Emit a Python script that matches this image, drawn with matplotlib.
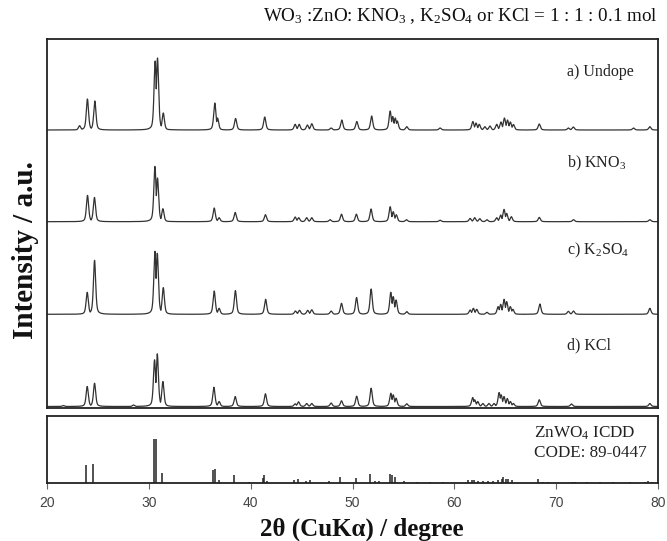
import numpy as np
import matplotlib
matplotlib.use("Agg")
import matplotlib.pyplot as plt

plt.rcParams['mathtext.fontset'] = 'custom'
plt.rcParams['mathtext.rm'] = 'Liberation Serif'
plt.rcParams['mathtext.it'] = 'Liberation Serif:italic'
plt.rcParams['mathtext.bf'] = 'Liberation Serif:bold'

# ---- data (2theta positions in degrees, intensities in arbitrary units) ----
a_pos = [23.2, 23.97, 24.7, 30.62, 30.85, 31.42, 36.48, 36.75, 38.52, 41.38, 44.37, 44.76,
         45.57, 46.0, 47.9, 48.95, 50.42, 51.88, 53.7, 53.95, 54.2, 54.4, 55.33, 58.6, 61.82,
         62.13, 62.45, 63.0, 63.5, 64.16, 64.58, 64.92, 65.22, 65.5, 65.8, 68.34, 71.2, 71.68,
         77.6, 79.2]
a_int = [4.3, 31, 29, 69, 72, 17, 27, 12, 11.5, 13, 5.7, 5.7,
         5, 6.3, 2, 10, 8.5, 14, 19, 13.5, 12, 9, 3.3, 2, 8.5,
         7, 5.7, 3.3, 4, 5.7, 8, 12, 10, 8, 5.5, 6, 2, 3,
         2, 3.3]

b_pos = [23.98, 24.66, 30.6, 30.85, 31.38, 36.42, 36.9, 38.48, 41.45, 44.37, 44.72, 45.5,
         46.0, 47.8, 48.92, 50.38, 51.82, 53.7, 54.0, 54.3, 55.3, 58.6, 61.55, 62.0, 62.5,
         63.2, 64.16, 64.55, 64.88, 65.14, 65.6, 68.34, 71.7, 79.2]
b_int = [26.3, 24.3, 55.3, 43.7, 13, 13.7, 4, 9.3, 7, 4.7, 4, 4,
         4, 2, 7.5, 7.5, 12.7, 15, 10, 7, 2, 1.5, 3.3, 4, 3,
         2, 4, 6.7, 12.3, 8.3, 5, 4.3, 2, 2]

c_pos = [23.95, 24.67, 30.6, 30.83, 31.42, 36.42, 36.9, 38.5, 41.47, 44.4, 44.8, 45.6,
         46.0, 47.9, 48.92, 50.4, 51.83, 53.76, 54.0, 54.28, 55.33, 61.55, 61.87, 62.2,
         63.2, 64.3, 64.55, 64.88, 65.14, 65.5, 65.75, 68.4, 71.2, 71.7, 79.2]
c_int = [22, 54, 63, 61, 26.7, 23.3, 6, 23.7, 15, 3.3, 4, 4,
         4.5, 3.3, 11, 16.8, 25.3, 22, 17.7, 14.3, 2.7, 4.3, 6, 5,
         2, 7.7, 10, 15, 12.7, 7.7, 5, 10.3, 3, 3.3, 6]

d_pos = [21.6, 23.95, 24.67, 28.5, 30.56, 30.83, 31.38, 36.39, 36.9, 38.48, 41.45, 44.37,
         44.7, 45.5, 46.0, 47.9, 48.92, 50.41, 51.83, 53.76, 54.0, 54.28, 55.33, 61.8, 62.0,
         62.3, 62.8, 63.4, 63.9, 64.4, 64.6, 64.88, 65.2, 65.5, 65.8, 68.34, 71.5, 79.2]
d_int = [1, 20, 23.3, 1.5, 46.7, 52.7, 25, 19.3, 5, 10, 12.7, 2.7,
         4.7, 3, 3, 3.5, 5.7, 10.3, 18.3, 13.3, 11.7, 8.3, 2.7, 9, 6.7,
         5, 3, 3, 3, 14, 11.7, 10, 8, 5, 3, 6.7, 2.5, 3]

ref_pos = [23.83, 24.51, 30.46, 30.72, 31.28, 36.29, 36.45, 36.85, 38.38, 39.88, 41.2, 41.33,
           41.6, 44.27, 44.63, 45.45, 45.84, 47.67, 48.8, 50.3, 51.73, 52.22, 52.64, 53.69,
           53.92, 54.18, 55.06, 56.37, 57.6, 58.9, 61.37, 61.7, 61.93, 62.35, 62.85, 63.34,
           63.83, 64.32, 64.65, 64.81, 65.07, 65.3, 65.63, 68.24, 68.73, 69.22, 71.52, 71.85,
           73.0, 74.3, 75.6, 77.25, 78.7, 79.04, 79.37]
ref_int = [17.3, 19, 44, 44, 9.7, 12.3, 13.3, 2.3, 7.3, 1, 4.7, 7.3,
           1.5, 3, 3.3, 2, 3, 1.3, 5.5, 4.8, 9, 1.3, 1.3, 9,
           7.3, 5.7, 1.3, 0.8, 0.8, 0.8, 2.3, 3, 3, 1.3, 1.3, 1.3,
           2, 2.7, 4, 5.7, 4, 3.3, 2.7, 3.3, 1, 1, 1, 1,
           1, 1, 1, 1, 1, 1.3, 1]

series_names = ["a) Undope", "b) KNO$_3$", "c) K$_2$SO$_4$", "d) KCl"]
series_offsets = [277.5, 185.8, 93.2, 1.0]
series_data = [(a_pos, a_int), (b_pos, b_int), (c_pos, c_int), (d_pos, d_int)]
x_ticks = [20, 30, 40, 50, 60, 70, 80]

title_text = "WO$_3$ :ZnO: KNO$_3$ , K$_2$SO$_4$ or KCl = 1 : 1 : 0.1 mol"

# ---- figure ----
W, H = 667, 541
fig = plt.figure(figsize=(W / 100, H / 100), dpi=100)

def fx(px):
    return px / W

def fy(py):
    return 1 - py / H

ax = fig.add_axes([fx(47), fy(407.5), fx(658) - fx(47), fy(39) - fy(407.5)])
axr = fig.add_axes([fx(47), fy(482.5), fx(658) - fx(47), fy(416) - fy(482.5)])

tt = np.linspace(20, 80, 12001)
fwhm = 0.26
line_col = "#333333"

def profile(pos, hgt):
    y = np.zeros_like(tt)
    for p, h in zip(pos, hgt):
        d = (tt - p) / (fwhm / 2)
        lor = 1 / (1 + d ** 2)
        gau = np.exp(-np.log(2) * d ** 2)
        y = np.maximum(y, h * (0.5 * lor + 0.5 * gau))
    return y

for (pos, hgt), off in zip(series_data, series_offsets):
    ax.plot(tt, profile(pos, hgt) + off, color=line_col, lw=0.9)

ax.set_xlim(20, 80)
ax.set_ylim(0, 368.5)
ax.set_xticks([])
ax.set_yticks([])
for s in ax.spines.values():
    s.set_linewidth(1.3)
    s.set_color("#222222")

label_y = [72, 163, 250, 345]
for name, yy in zip(series_names, label_y):
    fig.text(fx(567), fy(yy), name, family="Liberation Serif", fontsize=11.5,
             ha="left", va="center", color="#222222")

axr.vlines(ref_pos, 0, ref_int, color="#222222", lw=1.1)
axr.set_xlim(20, 80)
axr.set_ylim(0, 66.5)
axr.set_yticks([])
axr.set_xticks(x_ticks)
axr.set_xticklabels([str(v) for v in x_ticks], family="Liberation Sans", fontsize=10, color="#444444")
axr.tick_params(axis="x", direction="out", length=4, width=0.8, color="#666666", pad=6)
for s in axr.spines.values():
    s.set_linewidth(1.3)
    s.set_color("#222222")

fig.text(fx(534), fy(433), "ZnWO$_4$ ICDD", family="Liberation Serif", fontsize=12.3,
         ha="left", va="center", color="#222222")
fig.text(fx(534), fy(453), "CODE: 89-0447", family="Liberation Serif", fontsize=12.3,
         ha="left", va="center", color="#222222")

fig.text(fx(657), fy(16), title_text, family="Liberation Serif", fontsize=13.7,
         ha="right", va="center", color="#111111")

fig.text(fx(362), fy(529), "2θ (CuKα) / degree", family="Liberation Serif", fontweight="bold",
         fontsize=18, ha="center", va="center", color="#111111")
fig.text(fx(26), fy(250), "Intensity / a.u.", family="Liberation Serif", fontweight="bold",
         fontsize=21, ha="center", va="center", rotation=90, color="#111111")

fig.savefig("out.png", dpi=100)
